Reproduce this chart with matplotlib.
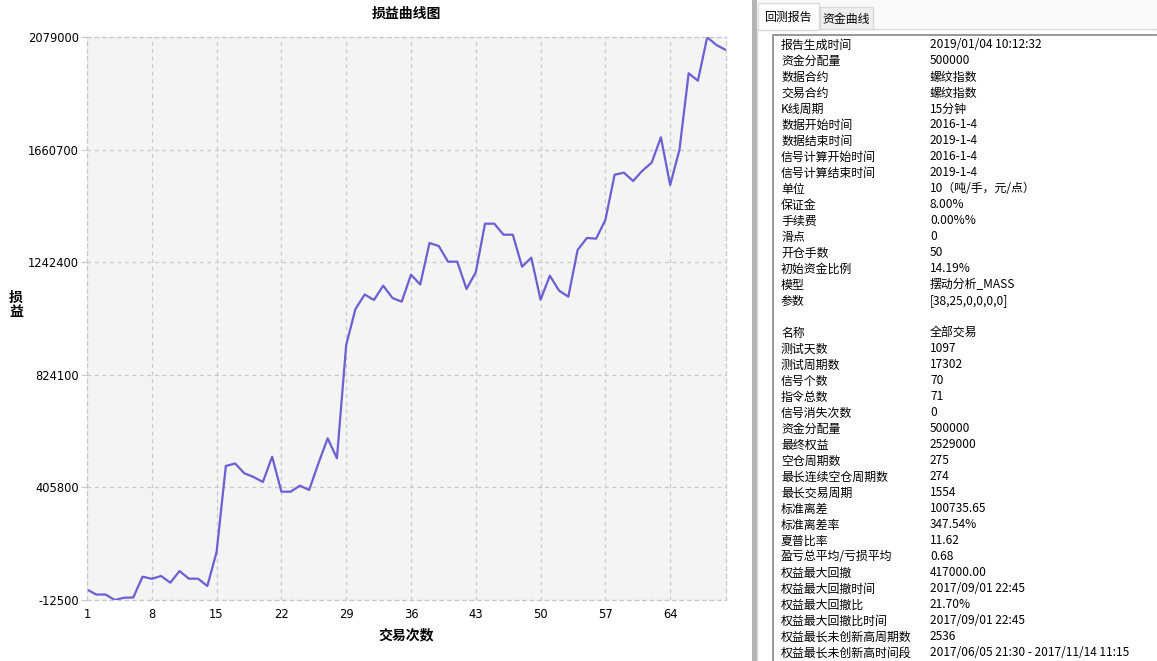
import matplotlib
matplotlib.use('Agg')
import matplotlib.pyplot as plt
from matplotlib.patches import Rectangle

plt.rcParams['font.family'] = ['Noto Sans CJK SC', 'DejaVu Sans']

# data
trades = list(range(1, 71))
pnl = [26500, 7900, 7900, -12500, -3950, -3200, 74100, 66300, 76700, 51800,
       95300, 66700, 66700, 39500, 165900, 485600, 494900, 458400, 444700, 426100,
       520100, 390000, 390000, 412400, 396400, 495600, 588500, 514200, 935300, 1069100,
       1123000, 1102600, 1155800, 1110000, 1096300, 1196600, 1160200, 1314500, 1303300, 1245000,
       1245000, 1143500, 1205600, 1386200, 1386200, 1345300, 1345300, 1226400, 1259800, 1103700,
       1192900, 1137200, 1114900, 1288400, 1333100, 1330500, 1400000, 1568300, 1575800, 1544900,
       1583200, 1612900, 1707400, 1530100, 1660200, 1945200, 1917700, 2079000, 2050400, 2031900]
x_ticks = [1, 8, 15, 22, 29, 36, 43, 50, 57, 64]
y_ticks = [-12500, 405800, 824100, 1242400, 1660700, 2079000]

report_labels = ['报告生成时间', '资金分配量', '数据合约', '交易合约', 'K线周期', '数据开始时间',
                 '数据结束时间', '信号计算开始时间', '信号计算结束时间', '单位', '保证金', '手续费',
                 '滑点', '开仓手数', '初始资金比例', '模型', '参数']
report_values = ['2019/01/04 10:12:32', '500000', '螺纹指数', '螺纹指数', '15分钟', '2016-1-4',
                 '2019-1-4', '2016-1-4', '2019-1-4', '10（吨/手，元/点）', '8.00%', '0.00%%',
                 '0', '50', '14.19%', '摆动分析_MASS', '[38,25,0,0,0,0]']
stats_labels = ['名称', '测试天数', '测试周期数', '信号个数', '指令总数', '信号消失次数', '资金分配量',
                '最终权益', '空仓周期数', '最长连续空仓周期数', '最长交易周期', '标准离差', '标准离差率',
                '夏普比率', '盈亏总平均/亏损平均', '权益最大回撤', '权益最大回撤时间', '权益最大回撤比',
                '权益最大回撤比时间', '权益最长未创新高周期数', '权益最长未创新高时间段']
stats_values = ['全部交易', '1097', '17302', '70', '71', '0', '500000', '2529000', '275', '274',
                '1554', '100735.65', '347.54%', '11.62', '0.68', '417000.00', '2017/09/01 22:45',
                '21.70%', '2017/09/01 22:45', '2536', '2017/06/05 21:30 - 2017/11/14 11:15']

W, H = 1157, 661
fig = plt.figure(figsize=(W / 100, H / 100), dpi=100)

# right hand report panel, drawn in pixel coords
pax = fig.add_axes([0, 0, 1, 1], zorder=-1)
pax.set_xlim(0, W)
pax.set_ylim(H, 0)
pax.axis('off')
pax.add_patch(Rectangle((753, 0), W - 753, H, color='#fafafa', lw=0))
pax.add_patch(Rectangle((752, 0), 5, H, color='#b4b4b4', lw=0))
pax.add_patch(Rectangle((757, 29), W - 757, H, facecolor='white', edgecolor='#d9d9d9', lw=1))
pax.add_patch(Rectangle((820, 7), 53, 22, facecolor='#f0f0f0', edgecolor='#d9d9d9', lw=1))
pax.add_patch(Rectangle((758, 3), 61, 27, facecolor='white', edgecolor='#d9d9d9', lw=1))
pax.text(788, 17, '回测报告', ha='center', va='center', fontsize=8.6)
pax.text(846, 19, '资金曲线', ha='center', va='center', fontsize=8.6)
pax.add_patch(Rectangle((773, 35), W - 773 + 5, H, facecolor='white', edgecolor='#828790', lw=1.2))

for i, (lab, val) in enumerate(zip(report_labels, report_values)):
    y = 45 + i * 16
    pax.text(781, y, lab, va='center', fontsize=8.6)
    pax.text(930, y, val, va='center', fontsize=8.6)
for i, (lab, val) in enumerate(zip(stats_labels, stats_values)):
    y = 333 + i * 16
    pax.text(781, y, lab, va='center', fontsize=8.6)
    pax.text(930, y, val, va='center', fontsize=8.6)

# equity curve
ax = fig.add_axes([87 / W, 1 - 600 / H, (725.7 - 87) / W, (600 - 37.3) / H])
ax.set_facecolor('#f4f4f4')
ax.plot(trades, pnl, color='#6a5fd4', lw=1.6)
ax.set_xlim(1, 70)
ax.set_ylim(-12500, 2079000)
ax.set_xticks(x_ticks)
ax.set_yticks(y_ticks)
ax.set_xticklabels([str(t) for t in x_ticks], fontsize=8.3, family='DejaVu Sans')
ax.set_yticklabels([str(t) for t in y_ticks], fontsize=8.3, family='DejaVu Sans')
ax.tick_params(axis='x', length=0, pad=6)
ax.tick_params(axis='y', length=4, color='#c8c8c8', pad=2)
ax.grid(True, ls=(0, (3, 3)), color='#c8c8c8', lw=0.9)
for sp in ax.spines.values():
    sp.set_linestyle((0, (3, 3)))
    sp.set_color('#c8c8c8')
    sp.set_linewidth(0.9)

fig.text(406 / W, 1 - 14 / H, '损益曲线图', ha='center', va='center', fontsize=10, fontweight='bold')
fig.text(406 / W, 1 - 635 / H, '交易次数', ha='center', va='center', fontsize=10, fontweight='bold')
fig.text(16 / W, 1 - 305 / H, '损\n益', ha='center', va='center', fontsize=10, fontweight='bold',
         linespacing=1.0)

fig.savefig('out.png', dpi=100)
